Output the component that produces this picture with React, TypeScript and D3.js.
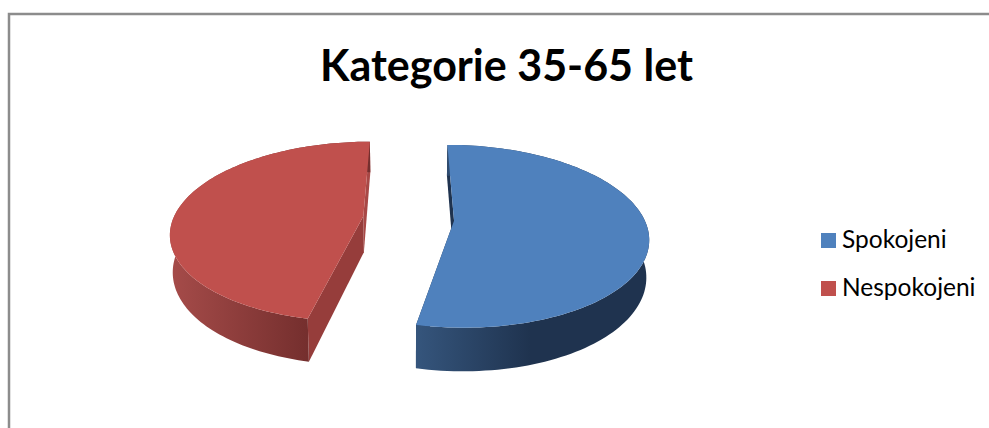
import React from "react";
import * as d3 from "d3";

const categories = ["Spokojeni", "Nespokojeni"];
const shares = [53.3, 46.7];
const title = "Kategorie 35-65 let";

const topColors = ["#4f81bd", "#c0504d"];
const startFaceColors = ["#1f334f", "#963d3b"];
const endFaceColors = ["#1f334f", "#a84846"];
const wallStops = [
  { x1: 417, x2: 530, from: "#35557c", to: "#1f334f" },
  { x1: 172, x2: 307, from: "#a54b49", to: "#752f2e" },
];

const W = 989;
const H = 428;
const cx = 408.5;
const cy = 218.5;
const rx = 190;
const ry = 88;
const k = 0.17;
const depth = 36;
const explode = 0.24;
const shrink = 0.012;

type P = [number, number];

const project = (u: number, v: number, z = 0): P => {
  const s = 1 / (1 - k * v);
  const x = cx + rx * u * s;
  const y = cy + ry * v * s;
  return z ? [cx + (x - cx) * (1 - shrink), y + depth * s] : [x, y];
};

const line = d3.line<P>();

export default function App() {
  const arcs = d3.pie<number>().sort(null)(shares);
  const slices = arcs.map((a, i) => {
    const mid = (a.startAngle + a.endAngle) / 2;
    const ox = explode * Math.sin(mid);
    const oy = -explode * Math.cos(mid);
    const at = (ang: number, r: number, z = 0) =>
      project(ox + r * Math.sin(ang), oy - r * Math.cos(ang), z);
    const angs = d3.range(0, 121).map((t) =>
      d3.interpolateNumber(a.startAngle, a.endAngle)(t / 120)
    );
    const rim = angs.map((g) => at(g, 1));
    const rimLow = angs.map((g) => at(g, 1, 1));
    const apex = at(0, 0);
    const apexLow = at(0, 0, 1);
    return {
      i,
      top: line([apex, ...rim])! + "Z",
      wall: line([...rim, ...rimLow.slice().reverse()])! + "Z",
      faceStart: line([apex, rim[0], rimLow[0], apexLow])! + "Z",
      faceEnd: line([apex, rim[120], rimLow[120], apexLow])! + "Z",
    };
  });

  return (
    <svg
      width={W}
      height={H}
      style={{ position: "absolute", left: 0, top: 0, display: "block", background: "#fff" }}
    >
      <defs>
        {wallStops.map((g, i) => (
          <linearGradient key={i} id={`wall${i}`} gradientUnits="userSpaceOnUse" x1={g.x1} x2={g.x2} y1={0} y2={0}>
            <stop offset="0" stopColor={g.from} />
            <stop offset="1" stopColor={g.to} />
          </linearGradient>
        ))}
      </defs>
      <path d={`M9 ${H}V14H${W}`} fill="none" stroke="#8c8c8c" strokeWidth={2.5} />
      <text
        x={506.5}
        y={81}
        textAnchor="middle"
        fontFamily="Lato"
        fontWeight={700}
        fontSize={43}
        fill="#000"
      >
        {title}
      </text>
      {slices.map((s) => (
        <g key={s.i}>
          <path d={s.faceEnd} fill={endFaceColors[s.i]} />
          <path d={s.faceStart} fill={startFaceColors[s.i]} />
          <path d={s.wall} fill={`url(#wall${s.i})`} />
          <path d={s.top} fill={topColors[s.i]} />
        </g>
      ))}
      {categories.map((c, i) => (
        <g key={c} transform={`translate(821,${233 + i * 48})`}>
          <rect width={15} height={15} fill={topColors[i]} />
          <text x={21} y={15} fontFamily="Lato" fontSize={24.5} fill="#000">
            {c}
          </text>
        </g>
      ))}
    </svg>
  );
}
